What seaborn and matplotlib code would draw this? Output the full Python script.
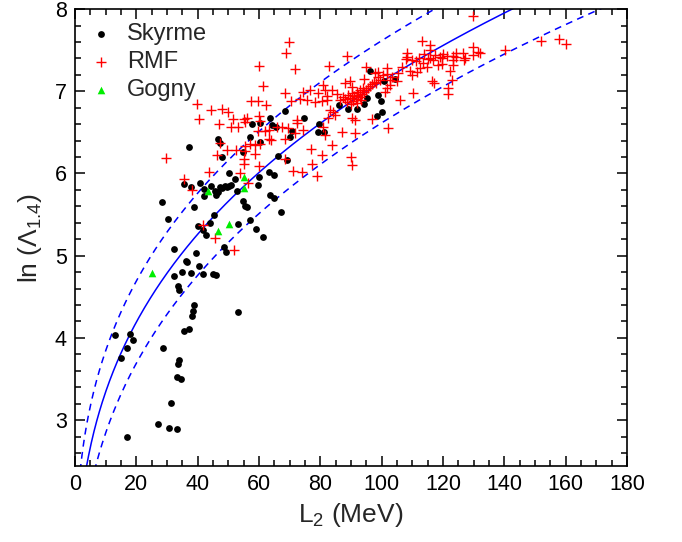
import numpy as np
import pandas as pd
import seaborn as sns
import matplotlib
matplotlib.use("Agg")
import matplotlib.pyplot as plt
from matplotlib.ticker import MultipleLocator

# ---------------- data ----------------
skyrme_L = [14.9, 16.9, 19.0, 28.8, 33.9, 33.5, 33.2, 34.6, 31.2, 27.2, 30.7, 33.4, 16.9, 12.9, 18.0,
            28.3, 30.3, 32.3, 32.4, 34.9, 36.3, 36.4, 37.8, 39.5, 40.3, 41.7, 45.1, 46.0, 33.7, 33.8,
            38.9, 38.5, 38.1, 37.3, 35.6, 53.0, 49.3, 48.6, 42.8, 40.0, 41.6, 44.0, 45.3, 38.8, 35.4,
            37.8, 40.9, 42.1, 42.2, 44.3, 45.7, 46.0, 46.5, 47.3, 48.0, 48.8, 49.5, 50.2, 50.9, 52.2,
            50.3, 52.9, 54.8, 55.3, 56.1, 57.1, 59.7, 59.1, 61.4, 63.4, 64.9, 63.7, 64.8, 67.2, 53.0,
            37.2, 46.6, 47.4, 47.8, 57.7, 60.2, 60.4, 57.2, 64.1, 65.6, 68.6, 70.6, 66.2, 59.9, 63.7,
            70.0, 69.0, 54.9, 96.3, 100.7, 104.4, 98.9, 99.9, 95.3, 94.2, 91.8, 89.0, 86.0, 100.1, 98.6,
            79.5, 79.2, 81.1, 74.6]
skyrme_ln = [3.75, 3.88, 3.97, 3.88, 3.73, 3.68, 3.52, 3.50, 3.21, 2.95, 2.90, 2.89, 2.79, 4.04, 4.05,
             5.65, 5.45, 5.08, 4.75, 4.80, 4.94, 4.92, 4.79, 5.03, 4.87, 4.78, 4.78, 4.77, 4.63, 4.58,
             4.40, 4.33, 4.27, 4.11, 4.08, 4.31, 5.05, 5.11, 5.25, 5.36, 5.31, 5.40, 5.49, 5.59, 5.87,
             5.83, 5.89, 5.81, 5.73, 5.85, 5.79, 5.74, 5.77, 5.84, 5.82, 5.85, 5.83, 5.85, 5.86, 5.93,
             6.00, 5.79, 5.67, 5.61, 5.59, 5.43, 5.86, 5.32, 5.23, 6.02, 5.98, 5.74, 5.70, 5.53, 5.39,
             6.32, 6.42, 6.37, 6.20, 6.60, 6.62, 6.38, 6.45, 6.59, 6.57, 6.76, 6.52, 6.21, 5.96, 6.68,
             6.44, 6.16, 6.26, 7.25, 7.12, 7.15, 6.95, 6.88, 6.92, 6.84, 6.79, 6.79, 6.83, 6.75, 6.70,
             6.60, 6.50, 6.50, 6.67]

rmf_L = [69.8, 68.9, 60.0, 71.6, 61.2, 68.4, 70.4, 73.4, 57.5, 59.6, 62.3, 39.9, 40.3, 44.5, 47.9,
         50.0, 51.5, 47.1, 50.9, 53.1, 55.2, 56.0, 55.4, 60.0, 60.3, 65.8, 67.5, 69.5, 72.4, 71.7,
         59.7, 62.0, 63.2, 64.0, 60.4, 47.3, 49.4, 52.4, 55.4, 57.0, 58.7, 46.3, 55.3, 55.2, 55.2,
         60.1, 43.8, 29.7, 71.0, 35.4, 68.6, 58.7, 68.4, 53.9, 56.3, 38.3, 41.6, 45.7, 51.9, 74.1,
         78.8, 63.4,
         88.6, 82.8, 94.9, 94.2, 101.6, 101.6, 98.9, 102.7, 113.2, 115.8, 108.2, 108.4, 107.9, 109.8,
         111.2, 112.1, 113.8, 115.2, 117.4, 119.0, 120.1, 121.2, 123.2, 124.1, 126.4, 126.9, 129.9,
         131.5, 132.1, 129.7, 140.2, 113.6, 114.7, 112.5, 111.4, 109.8, 109.2, 122.3, 122.8, 121.7,
         121.7, 116.3, 117.2, 110.1, 106.1, 91.3, 87.0, 83.7, 90.0, 90.3, 76.9, 80.4, 77.2, 129.9,
         127.2, 123.4, 124.2, 119.6, 115.8, 116.8, 118.5, 119.6, 123.4, 152.0, 157.7, 160.2, 115.8,
         76.6, 74.4, 75.6, 79.3, 81.0, 81.5, 82.1, 83.7, 85.3, 86.4, 87.5, 88.0, 89.7, 90.2, 91.9,
         92.9, 94.0, 78.3, 80.4, 82.1, 83.2, 84.2, 84.8, 72.3, 74.4, 81.0, 81.5, 82.6, 90.2, 91.3,
         96.8, 102.2, 97.8, 98.9, 105.4, 106.5, 104.9, 102.7, 101.6, 101.1,
         89.0, 89.7, 90.3, 91.0, 91.6, 92.3, 92.9, 93.6, 94.2, 94.9, 90.7, 92.0, 93.3, 95.5, 96.2,
         96.9, 97.5, 88.7, 90.0, 88.0, 99.3, 100.3, 98.0, 103.4]
rmf_ln = [7.60, 7.47, 7.31, 7.27, 7.06, 6.98, 6.88, 6.91, 6.88, 6.88, 6.83, 6.85, 6.66, 6.77, 6.79,
          6.75, 6.66, 6.60, 6.56, 6.56, 6.66, 6.68, 6.63, 6.70, 6.64, 6.56, 6.56, 6.55, 6.62, 6.49,
          6.52, 6.52, 6.42, 6.41, 6.36, 6.37, 6.29, 6.29, 6.33, 6.36, 6.24, 6.22, 6.27, 6.18, 6.11,
          6.09, 6.02, 6.19, 6.03, 5.93, 6.42, 6.35, 6.18, 6.01, 5.88, 5.80, 5.37, 5.22, 5.07, 6.02,
          5.97, 6.53,
          7.43, 7.31, 7.29, 7.15, 7.28, 7.21, 7.17, 7.14, 7.61, 7.56, 7.46, 7.42, 7.39, 7.38,
          7.37, 7.40, 7.45, 7.39, 7.44, 7.42, 7.45, 7.43, 7.43, 7.46, 7.46, 7.38, 7.54,
          7.48, 7.46, 7.92, 7.50, 7.35, 7.30, 7.28, 7.23, 7.20, 7.25, 7.25, 7.14, 7.04,
          6.97, 7.12, 7.10, 6.98, 6.89, 6.49, 6.50, 6.35, 6.20, 6.10, 6.30, 6.22, 6.11, 7.44,
          7.40, 7.38, 7.42, 7.41, 7.40, 7.38, 7.32, 7.33, 7.32, 7.61, 7.64, 7.57, 7.50,
          7.01, 6.99, 6.89, 6.98, 7.08, 7.01, 6.94, 7.01, 6.97, 6.89, 6.93, 7.10, 7.12, 7.05, 6.99,
          7.01, 7.04, 6.87, 6.88, 6.89, 6.77, 6.75, 6.71, 6.65, 6.53, 6.57, 6.47, 6.67, 6.68, 6.65,
          6.66, 6.55, 7.22, 7.24, 7.22, 7.30, 7.12, 7.08, 7.04, 6.99,
          6.95, 6.92, 6.98, 6.94, 6.91, 6.95, 6.93, 6.97, 6.99, 7.01, 6.88, 6.86, 6.89, 7.04, 7.06,
          7.09, 7.11, 6.87, 6.84, 6.91, 7.14, 7.20, 7.10, 7.18]

gogny_L = [25.0, 43.3, 55.0, 55.0, 46.6, 50.3]
gogny_ln = [4.79, 5.79, 5.96, 5.82, 5.30, 5.38]

# fit curve: ln(Lambda) = a + b * L^c, band +/- w
fit_a, fit_b, fit_c, fit_w = 0.10, 1.5, 0.335, 0.5

# ---------------- figure ----------------
sns.set_theme(style="ticks")
plt.rcParams['font.family'] = ['Liberation Sans', 'DejaVu Sans']
plt.rcParams['mathtext.fontset'] = 'custom'
plt.rcParams['mathtext.rm'] = 'Liberation Sans'
plt.rcParams['mathtext.it'] = 'Liberation Sans:italic'
plt.rcParams['mathtext.bf'] = 'Liberation Sans:bold'

fig = plt.figure(figsize=(6.82, 5.42), dpi=100)
ax = fig.add_axes([0.110, 0.140, 0.8094, 0.8432])

Lgrid = np.linspace(0.5, 180, 600)
central = fit_a + fit_b * Lgrid ** fit_c
fit_df = pd.DataFrame({"L": Lgrid, "mid": central,
                       "hi": central + fit_w, "lo": central - fit_w})

sns.lineplot(data=fit_df, x="L", y="mid", color="#0000FF", lw=1.1, ax=ax, zorder=2)
sns.lineplot(data=fit_df, x="L", y="hi", color="#0000FF", lw=1.1, ax=ax, zorder=2,
             linestyle=(0, (4.5, 3.5)))
sns.lineplot(data=fit_df, x="L", y="lo", color="#0000FF", lw=1.1, ax=ax, zorder=2,
             linestyle=(0, (4.5, 3.5)))

sns.scatterplot(x=skyrme_L, y=skyrme_ln, color="black", marker="o", s=24,
                edgecolor="black", linewidth=0, ax=ax, label="Skyrme", zorder=3)
sns.scatterplot(x=rmf_L, y=rmf_ln, color="#FF0000", marker="+", s=44,
                linewidth=1.0, ax=ax, label="RMF", zorder=4)
sns.scatterplot(x=gogny_L, y=gogny_ln, color="#00EE00", marker="^", s=30,
                edgecolor="#00EE00", linewidth=0, ax=ax, label="Gogny", zorder=5)

ax.set_xlim(0, 180)
ax.set_ylim(2.44, 8)
ax.xaxis.set_major_locator(MultipleLocator(20))
ax.xaxis.set_minor_locator(MultipleLocator(5))
ax.yaxis.set_major_locator(MultipleLocator(1))
ax.yaxis.set_minor_locator(MultipleLocator(0.2))
ax.tick_params(which="both", direction="in", top=True, right=True, colors="black",
               labelsize=15.5, width=1.1)
ax.tick_params(which="major", length=7, pad=6)
ax.tick_params(which="minor", length=4)
for sp in ax.spines.values():
    sp.set_linewidth(1.2)
    sp.set_color("black")

ax.set_xlabel(r"L$_2$ (MeV)", fontsize=19, labelpad=4)
ax.set_ylabel(r"ln ($\Lambda_{1.4}$)", fontsize=19, labelpad=8)

leg = ax.legend(loc="upper left", frameon=False, fontsize=17, handlelength=1.0,
                handletextpad=0.6, labelspacing=0.25, borderaxespad=0.3,
                borderpad=0.3)

fig.savefig("out.png", dpi=100)
